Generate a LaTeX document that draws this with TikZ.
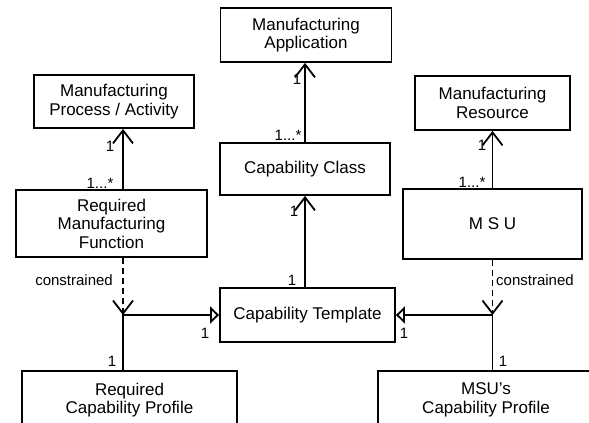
\documentclass[tikz,border=0pt]{standalone}
\usepackage{fontspec}
\setmainfont{Liberation Sans}
\usetikzlibrary{arrows.meta,positioning,calc}

\tikzset{
  box/.style={draw, line width=1.8pt, align=center, inner sep=0pt,
    font=\fontsize{17}{18.5}\selectfont},
  mult/.style={inner sep=0pt, font=\fontsize{15}{17}\selectfont},
  assoc/.style={line width=1.8pt, -{Straight Barb[length=13pt,width=20pt]}},
  constr/.style={assoc, dash pattern=on 6pt off 4pt},
  realize/.style={line width=1.8pt, -{Triangle[open,fill=white,length=9pt,width=17pt]}}
}

\begin{document}
\begin{tikzpicture}[x=1pt,y=-1pt]
			\useasboundingbox (0,0) rectangle (589,423);
			\clip (0,0) rectangle (589,423);

			% Classes
			\node[box, minimum width=171pt, minimum height=54pt] (app) at (306,35) {Manufacturing\\Application};
			\node[box, minimum width=170pt, minimum height=52pt] (cls) at (305,169) {Capability Class};
			\node[box, minimum width=160pt, minimum height=53pt] (proc) at (114,101.5) {Manufacturing\\Process / Activity};
			\node[box, minimum width=191pt, minimum height=67pt] (rmf) at (111.5,223.5) {Required\\Manufacturing\\Function};
			\node[box, minimum width=155pt, minimum height=54pt] (res) at (492.5,103) {Manufacturing\\Resource};
			\node[box, minimum width=179pt, minimum height=70pt] (msu) at (492.5,224) {M S U};
			\node[box, minimum width=175pt, minimum height=54pt] (tpl) at (307.5,315) {Capability Template};
			\node[box, minimum width=215pt, minimum height=58pt] (rcp) at (129.5,400) {Required\\Capability Profile};
			\node[box, minimum width=216pt, minimum height=58pt] (mcp) at (486,400) {MSU's\\Capability Profile};

			% Junctions
			\coordinate (j1) at (123,315);
			\coordinate (j2) at (492.5,315);

			% Associations
			\draw[assoc] (cls.north) -- (cls.north |- app.south);
			\draw[assoc] (tpl.north -| cls.south) -- (cls.south);
			\draw[assoc] (rmf.north -| j1) -- (proc.south -| j1);
			\draw[assoc] (msu.north) -- (res.south);

			% Constrained
			\draw[constr] (rmf.south -| j1) -- (j1);
			\draw[constr] (msu.south) -- (j2);
			\draw[realize] (rcp.north -| j1) -- (j1) -- (tpl.west);
			\draw[realize] (mcp.north -| j2) -- (j2) -- (tpl.east);

			% Labels
			\node[mult, anchor=east] (lc1) at (113,280) {constrained};
			\node[mult, anchor=west] (lc2) at (496,280) {constrained};
			\node[mult] (m1) at (297,79) {1};
			\node[mult] (m2) at (288,135) {1...*};
			\node[mult] (m3) at (110,146) {1};
			\node[mult] (m4) at (100,183) {1...*};
			\node[mult] (m5) at (482,145) {1};
			\node[mult] (m6) at (472,182) {1...*};
			\node[mult] (m7) at (294,211) {1};
			\node[mult] (m8) at (292,280) {1};
			\node[mult] (m9) at (205,333) {1};
			\node[mult] (m10) at (404,333) {1};
			\node[mult] (m11) at (112,361) {1};
			\node[mult] (m12) at (503,361) {1};
		\end{tikzpicture}
\end{document}
